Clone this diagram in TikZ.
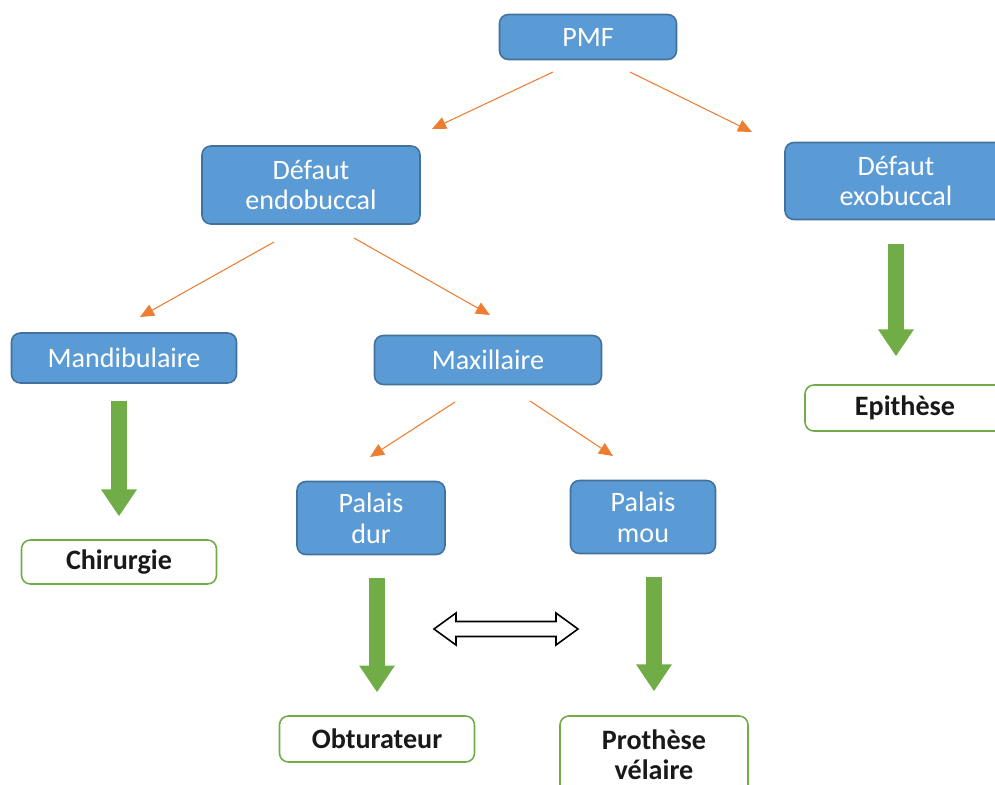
\documentclass[tikz,border=0pt]{standalone}
\usepackage{fontspec}
\setmainfont{Carlito}
\usetikzlibrary{arrows.meta}
\definecolor{boxblue}{HTML}{5B9BD5}
\definecolor{boxedge}{HTML}{41719C}
\definecolor{linkorange}{HTML}{ED7D31}
\definecolor{leafgreen}{HTML}{70AD47}

\begin{document}
\begin{tikzpicture}[x=0.02cm, y=-0.02cm,
    bluebox/.style={draw=boxedge, line width=0.9pt, fill=boxblue, rounded corners=5pt,
      text=white, align=center, inner sep=0pt, font=\fontsize{16}{17.5}\selectfont},
    greenbox/.style={draw=leafgreen, line width=0.9pt, fill=white, rounded corners=5pt,
      text=black!90, align=center, inner sep=0pt, font=\fontsize{16}{17}\selectfont\bfseries},
    orarrow/.style={linkorange, line width=0.6pt, -{Triangle[length=8pt,width=7pt]}},
    greenarrow/.style={leafgreen, line width=9.6pt, -{Triangle[length=15.3pt,width=19.3pt]}}
  ]
      \useasboundingbox (0,0) rectangle (995,785);

      % Blue boxes
      \node[bluebox, minimum width=3.54cm, minimum height=0.9cm] (pmf) at (588,37) {PMF};
      \node[bluebox, minimum width=4.36cm, minimum height=1.56cm] (endo) at (311,185) {Défaut\\endobuccal};
      \node[bluebox, minimum width=4.44cm, minimum height=1.54cm] (exo) at (896,181) {Défaut\\exobuccal};
      \node[bluebox, minimum width=4.5cm, minimum height=1.0cm] (mand) at (124,358) {Mandibulaire};
      \node[bluebox, minimum width=4.54cm, minimum height=0.98cm] (maxi) at (488,360) {Maxillaire};
      \node[bluebox, minimum width=2.96cm, minimum height=1.46cm] (dur) at (371,518) {Palais\\dur};
      \node[bluebox, minimum width=2.9cm, minimum height=1.46cm] (mou) at (643,517) {Palais\\mou};

      % Green boxes
      \node[greenbox, minimum width=3.9cm, minimum height=0.88cm] (chir) at (119,562) {Chirurgie};
      \node[greenbox, minimum width=4.0cm, minimum height=0.92cm] (epi) at (905,408) {Epithèse};
      \node[greenbox, minimum width=3.9cm, minimum height=0.92cm] (obt) at (377,739) {Obturateur};
      \node[greenbox, minimum width=3.76cm, minimum height=1.56cm] (proth) at (654,755) {Prothèse\\vélaire};

      % Ends of the orange arrows
      \coordinate (pmfL) at (553,72);   \coordinate (endoT) at (432,129);
      \coordinate (pmfR) at (630,72);   \coordinate (exoT) at (752,132);
      \coordinate (endoL) at (274,242); \coordinate (mandT) at (140,317);
      \coordinate (endoR) at (354,238); \coordinate (maxiT) at (490,315);
      \coordinate (maxiL) at (455,402); \coordinate (durT) at (370,457);
      \coordinate (maxiR) at (530,401); \coordinate (mouT) at (613,456);

      \draw[orarrow] (pmfL) -- (endoT);
      \draw[orarrow] (pmfR) -- (exoT);
      \draw[orarrow] (endoL) -- (mandT);
      \draw[orarrow] (endoR) -- (maxiT);
      \draw[orarrow] (maxiL) -- (durT);
      \draw[orarrow] (maxiR) -- (mouT);

      % Green arrows
      \draw[greenarrow, shorten <=10pt, shorten >=13pt] (chir.north |- mand.south) -- (chir.north);
      \draw[greenarrow, shorten <=13.6pt, shorten >=15.9pt] (exo.south) -- (exo.south |- epi.north);
      \draw[greenarrow, shorten <=13pt, shorten >=13pt] (obt.north |- dur.south) -- (obt.north);
      \draw[greenarrow, shorten <=13pt, shorten >=13.6pt] (proth.north |- mou.south) -- (proth.north);

      % Double arrow between the two palates
      \coordinate (equiv) at (506,629);
      \draw[line width=0.9pt, fill=white, line join=miter] (equiv) ++(-72,0)
        -- ++(22,-16) -- ++(0,8.5) -- ++(100,0) -- ++(0,-8.5) -- ++(22,16)
        -- ++(-22,16) -- ++(0,-8.5) -- ++(-100,0) -- ++(0,8.5) -- cycle;
\end{tikzpicture}
\end{document}
